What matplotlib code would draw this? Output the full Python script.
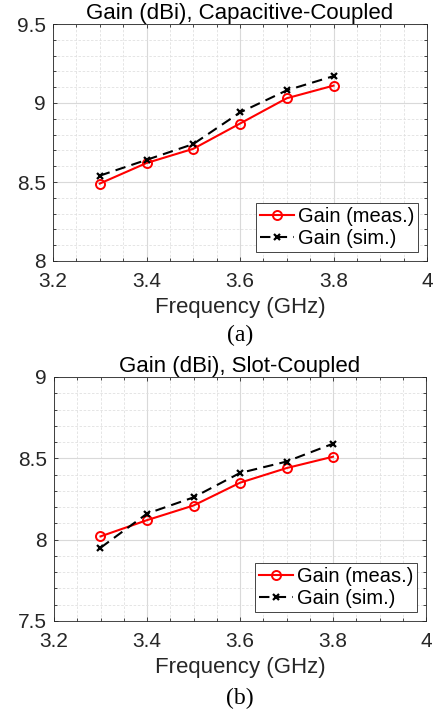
import matplotlib
matplotlib.use("Agg")
import matplotlib.pyplot as plt
from matplotlib.ticker import MultipleLocator

freq = [3.3, 3.4, 3.5, 3.6, 3.7, 3.8]
meas_a = [8.49, 8.62, 8.71, 8.87, 9.03, 9.11]
sim_a = [8.54, 8.64, 8.74, 8.94, 9.08, 9.17]
meas_b = [8.02, 8.12, 8.21, 8.35, 8.44, 8.51]
sim_b = [7.95, 8.16, 8.26, 8.41, 8.48, 8.59]

xticks = [3.2, 3.4, 3.6, 3.8, 4.0]
xticklabels = ["3.2", "3.4", "3.6", "3.8", "4"]
yticks_a = [8, 8.5, 9, 9.5]
yticklabels_a = ["8", "8.5", "9", "9.5"]
yticks_b = [7.5, 8, 8.5, 9]
yticklabels_b = ["7.5", "8", "8.5", "9"]

plt.rcParams['font.family'] = ['Liberation Sans', 'DejaVu Sans']

W, H = 435, 713
fig = plt.figure(figsize=(W / 100, H / 100), dpi=100)


def make(rect, meas, sim, yticks, ylabels, title, caption, cap_y):
    l, t, r, b = rect
    ax = fig.add_axes([l / W, 1 - b / H, (r - l) / W, (b - t) / H])
    ax.plot(freq, meas, color='#ff0000', lw=1.5, marker='o', ms=6.5,
            mfc='none', mec='#ff0000', mew=1.4, label='Gain (meas.)', zorder=3)
    ax.plot(freq, sim, color='black', lw=1.5, ls=(0, (5, 3)), marker='x', ms=4,
            mew=1.6, label='Gain (sim.)', zorder=4)
    ax.set_xlim(3.2, 4.0)
    ax.set_ylim(yticks[0], yticks[-1])
    ax.set_xticks(xticks)
    ax.set_xticklabels(xticklabels)
    ax.set_yticks(yticks)
    ax.set_yticklabels(ylabels)
    ax.xaxis.set_minor_locator(MultipleLocator(0.05))
    ax.yaxis.set_minor_locator(MultipleLocator(0.1))
    ax.grid(which='major', color='#d9d9d9', lw=0.8, ls='-')
    ax.grid(which='minor', color='#e0e0e0', lw=0.6, ls=(0, (3, 2)))
    ax.set_axisbelow(True)
    ax.tick_params(which='both', direction='in', top=True, right=True,
                   labelsize=15, colors='#262626', length=3, width=0.6)
    ax.tick_params(axis='x', which='major', pad=8)
    ax.tick_params(axis='y', which='major', pad=5)
    ax.tick_params(which='minor', length=2)
    for s in ax.spines.values():
        s.set_color('#262626')
        s.set_linewidth(0.6)
    ax.set_title(title, fontsize=16, pad=3, color='black')
    ax.set_xlabel('Frequency (GHz)', fontsize=16, labelpad=4, color='#262626')
    leg = ax.legend(loc='lower right', fontsize=14.5, frameon=True, fancybox=False,
                    edgecolor='#262626', framealpha=1, handlelength=1.65,
                    handletextpad=0.2, borderpad=0.2, labelspacing=0.15,
                    borderaxespad=0.45)
    leg.get_frame().set_linewidth(0.6)
    fig.text(((l + r) / 2) / W, 1 - cap_y / H, caption, ha='center', va='center',
             fontsize=17, family=['Liberation Serif', 'DejaVu Serif'])
    return ax


make((53, 24, 427, 261), meas_a, sim_a, yticks_a, yticklabels_a,
     'Gain (dBi), Capacitive-Coupled', '(a)', 335)
make((54, 377, 426, 621), meas_b, sim_b, yticks_b, yticklabels_b,
     'Gain (dBi), Slot-Coupled', '(b)', 698)

fig.savefig('out.png', dpi=100)
